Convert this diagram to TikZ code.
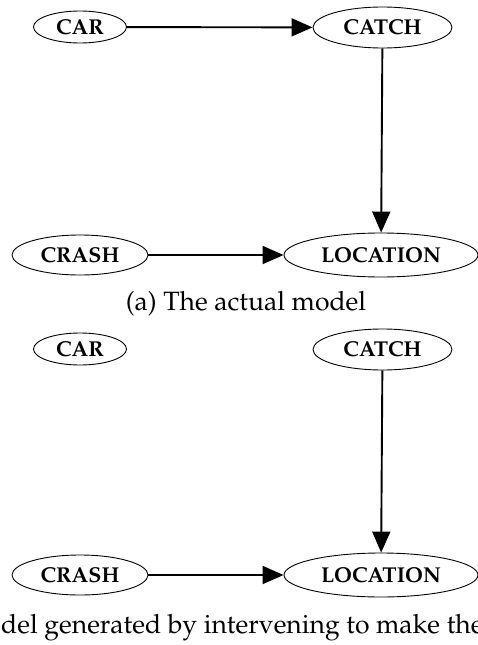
\documentclass[tikz,border=0pt]{standalone}
\usepackage[T1]{fontenc}
\usepackage{mathpazo}
\usetikzlibrary{shapes.geometric,arrows.meta}
\begin{document}
\begin{tikzpicture}[x=1pt,y=-1pt,
  ell/.style={ellipse,draw,line width=0.9pt,inner sep=0pt,font=\fontsize{21.5}{24}\selectfont\bfseries},
  edge/.style={line width=1.9pt,-{Triangle[length=21pt,width=18pt]}},
  captext/.style={font=\fontsize{26.5}{30}\selectfont,inner sep=0pt}]
\useasboundingbox (0,0) rectangle (478,645);
% (a)
\node[ell,minimum width=93pt,minimum height=32pt] (cara) at (80,27) {CAR};
\node[ell,minimum width=139pt,minimum height=41pt] (catcha) at (382.5,27.5) {CATCH};
\node[ell,minimum width=136pt,minimum height=40pt] (crasha) at (80,255) {CRASH};
\node[ell,minimum width=194pt,minimum height=44pt] (loca) at (381,255) {LOCATION};
\draw[edge] (cara) -- (catcha);
\draw[edge] (catcha) -- (loca);
\draw[edge] (crasha) -- (loca);
\node[captext,anchor=base] (capa) at (246,310) {(a) The actual model};
% (b)
\node[ell,minimum width=93pt,minimum height=32pt] (carb) at (80,349) {CAR};
\node[ell,minimum width=139pt,minimum height=41pt] (catchb) at (382.5,349.5) {CATCH};
\node[ell,minimum width=136pt,minimum height=40pt] (crashb) at (80,575) {CRASH};
\node[ell,minimum width=194pt,minimum height=44pt] (locb) at (381,575) {LOCATION};
\draw[edge] (catchb) -- (locb);
\draw[edge] (crashb) -- (locb);
\node[captext,anchor=base west] (capb) at (1,633) {del generated by intervening to make the};
\end{tikzpicture}
\end{document}
